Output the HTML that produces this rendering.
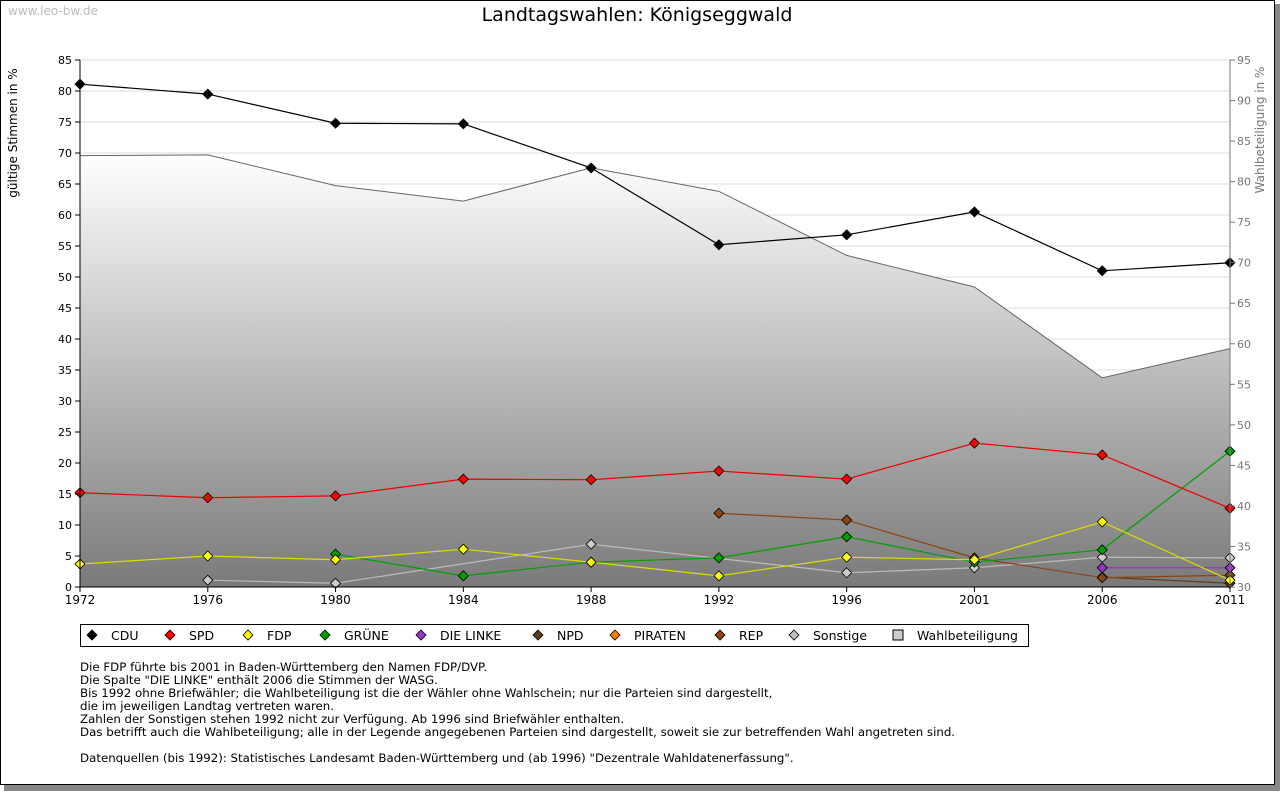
<!DOCTYPE html>
<html><head><meta charset="utf-8"><style>
body{margin:0;width:1280px;height:791px;background:#fff;overflow:hidden;font-family:"DejaVu Sans","Liberation Sans",sans-serif}
svg text{font-family:"DejaVu Sans","Liberation Sans",sans-serif}
</style></head><body>
<svg id="c" width="1280" height="791" xmlns="http://www.w3.org/2000/svg">
<defs><linearGradient id="tg" x1="0" y1="0" x2="0" y2="1"><stop offset="0" stop-color="#ffffff"/><stop offset="1" stop-color="#7a7a7a"/></linearGradient></defs>
<rect x="4" y="4" width="1276" height="787" fill="#888"/>
<rect x="0.5" y="0.5" width="1274" height="784" fill="#fff" stroke="#000"/>
<text x="8" y="15" font-size="12" fill="#bbb">www.leo-bw.de</text>
<text x="637" y="21" font-size="19" text-anchor="middle" fill="#000">Landtagswahlen: Königseggwald</text>
<text transform="translate(17,133) rotate(-90)" font-size="12" text-anchor="middle">gültige Stimmen in %</text>
<text transform="translate(1264,130) rotate(-90)" font-size="12" text-anchor="middle" fill="#777">Wahlbeteiligung in %</text>
<g id="grid"></g><g id="area"></g><g id="lines"></g><g id="axes"></g>
<rect x="80.5" y="624.5" width="948" height="22" fill="#fff" stroke="#000"/>
<g id="legend"></g>
<g font-size="11.8" fill="#000">
<text x="80" y="671">Die FDP führte bis 2001 in Baden-Württemberg den Namen FDP/DVP.</text>
<text x="80" y="684">Die Spalte "DIE LINKE" enthält 2006 die Stimmen der WASG.</text>
<text x="80" y="697">Bis 1992 ohne Briefwähler; die Wahlbeteiligung ist die der Wähler ohne Wahlschein; nur die Parteien sind dargestellt,</text>
<text x="80" y="710">die im jeweiligen Landtag vertreten waren.</text>
<text x="80" y="723">Zahlen der Sonstigen stehen 1992 nicht zur Verfügung. Ab 1996 sind Briefwähler enthalten.</text>
<text x="80" y="736">Das betrifft auch die Wahlbeteiligung; alle in der Legende angegebenen Parteien sind dargestellt, soweit sie zur betreffenden Wahl angetreten sind.</text>
<text x="80" y="762">Datenquellen (bis 1992): Statistisches Landesamt Baden-Württemberg und (ab 1996) "Dezentrale Wahldatenerfassung".</text>
</g>
</svg>
<script>
const years=["1972","1976","1980","1984","1988","1992","1996","2001","2006","2011"];
const cdu=[81.1,79.5,74.8,74.7,67.6,55.2,56.8,60.5,51.0,52.3];
const spd=[15.2,14.4,14.7,17.4,17.3,18.7,17.4,23.2,21.3,12.7];
const fdp=[3.7,5.0,4.4,6.1,4.0,1.8,4.8,4.4,10.5,1.1];
const gruene=[null,null,5.3,1.8,4.0,4.7,8.1,4.0,6.0,21.9];
const linke=[null,null,null,null,null,null,null,null,3.1,3.1];
const npd=[null,null,null,null,null,null,null,null,1.6,0.6];
const rep=[null,null,null,null,null,11.9,10.8,4.7,1.5,1.9];
const sonstige=[null,1.1,0.6,null,6.9,null,2.3,3.1,4.8,4.7];
const turnout=[83.2,83.3,79.5,77.6,81.7,78.8,70.9,67.0,55.8,59.4];
const leftTicks=[0,5,10,15,20,25,30,35,40,45,50,55,60,65,70,75,80,85];
const rightTicks=[30,35,40,45,50,55,60,65,70,75,80,85,90,95];
const NS="http://www.w3.org/2000/svg";
const X0=80,X1=1230,Y0=587,Y1=60;
const xs=i=>X0+(X1-X0)*i/(years.length-1);
const yl=v=>Y0-(Y0-Y1)*v/85;
const yr=v=>Y0-(Y0-Y1)*(v-30)/65;
function mk(tag,attrs,parent){const e=document.createElementNS(NS,tag);for(const k in attrs)e.setAttribute(k,attrs[k]);parent.appendChild(e);return e;}
const G=id=>document.getElementById(id);
leftTicks.forEach(t=>{if(t>0){const l=mk('line',{x1:X0,x2:X1,y1:yl(t),y2:yl(t),stroke:'#ddd'},G('grid'));

}
mk('line',{x1:X0-5,x2:X0,y1:yl(t),y2:yl(t),stroke:'#000'},G('axes'));
const tx=mk('text',{x:X0-8,y:yl(t)+4,'font-size':11,'text-anchor':'end'},G('axes'));tx.textContent=t;

});
rightTicks.forEach(t=>{mk('line',{x1:X1,x2:X1+5,y1:yr(t),y2:yr(t),stroke:'#777'},G('axes'));
const tx=mk('text',{x:X1+7,y:yr(t)+4,'font-size':11,fill:'#777'},G('axes'));tx.textContent=t;

});
years.forEach((y,i)=>{mk('line',{x1:xs(i),x2:xs(i),y1:Y0,y2:Y0+5,stroke:'#000'},G('axes'));
const tx=mk('text',{x:xs(i),y:Y0+17,'font-size':12,'text-anchor':'middle'},G('axes'));tx.textContent=y;

});
mk('line',{x1:X0,x2:X0,y1:Y1,y2:Y0,stroke:'#000'},G('axes'));
mk('line',{x1:X1,x2:X1,y1:Y1,y2:Y0,stroke:'#777'},G('axes'));
mk('line',{x1:X0,x2:X1,y1:Y0,y2:Y0,stroke:'#000'},G('axes'));
let d='M'+X0+','+Y0+' '+turnout.map((v,i)=>'L'+xs(i)+','+yr(v)).join(' ')+' L'+X1+','+Y0+'Z';
const ar=mk('path',{d:d,fill:'url(#tg)'},G('area'));


const al=mk('polyline',{points:turnout.map((v,i)=>xs(i)+','+yr(v)).join(' '),fill:'none',stroke:'#666'},G('area'));


const series=[["cdu",cdu,'#000','#000'],["sonstige",sonstige,'#ccc','#bbb'],["npd",npd,'#5a3a1e','#5a3a1e'],["rep",rep,'#8b4513','#8b4513'],["linke",linke,'#9933cc','#9933cc'],["gruene",gruene,'#00a000','#00a000'],["fdp",fdp,'#ffff00','#dddd00'],["spd",spd,'#ff0000','#ee0000']];
series.forEach(([n,arr,fill,stroke])=>{
const pts=[];arr.forEach((v,i)=>{if(v!==null)pts.push([xs(i),yl(v)]);});
const pl=mk('polyline',{points:pts.map(p=>p.join(',')).join(' '),fill:'none',stroke:stroke,'stroke-width':1.2},G('lines'));


pts.forEach(p=>{const m=mk('path',{d:`M${p[0]},${p[1]-5}L${p[0]+5},${p[1]}L${p[0]},${p[1]+5}L${p[0]-5},${p[1]}Z`,fill:fill,stroke:'#000','stroke-width':0.8},G('lines'));

});
});
const leg=[["CDU",'#000',92],["SPD",'#ff0000',170],["FDP",'#ffff00',248],["GRÜNE",'#00a000',325],["DIE LINKE",'#9933cc',421],["NPD",'#5a3a1e',538],["PIRATEN",'#ff7f00',615],["REP",'#8b4513',720],["Sonstige",'#c0c0c0',794],["Wahlbeteiligung",'sq',898]];
leg.forEach(([t,c,x])=>{
if(c==='sq'){mk('rect',{x:x-5,y:630,width:10,height:10,fill:'#ccc',stroke:'#000'},G('legend'));}
else mk('path',{d:`M${x},630L${x+5},635L${x},640L${x-5},635Z`,fill:c,stroke:'#000','stroke-width':0.8},G('legend'));
const tx=mk('text',{x:x+19,y:640,'font-size':12.5},G('legend'));tx.textContent=t;

});
</script>
</body></html>
